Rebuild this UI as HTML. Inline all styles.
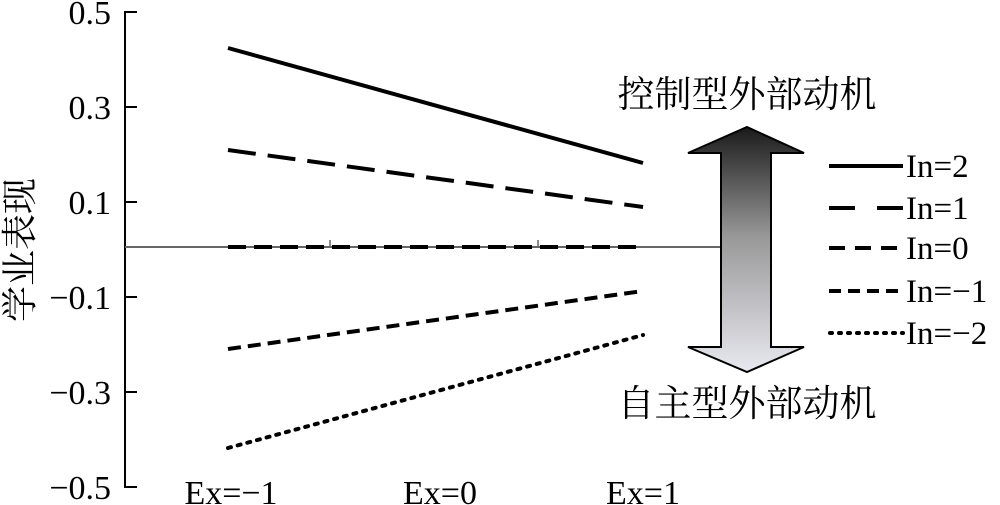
<!DOCTYPE html>
<html><head><meta charset="utf-8"><style>
html,body{margin:0;padding:0;background:#fff;}
svg{display:block;}
text{font-family:"Liberation Serif","Noto Serif CJK SC",serif;fill:#000;}
.cj{font-family:"Noto Serif CJK SC","Noto Sans CJK SC",serif;}
</style></head><body>
<svg width="1000" height="505" viewBox="0 0 1000 505" xmlns="http://www.w3.org/2000/svg">
<defs>
<linearGradient id="g" x1="0" y1="0" x2="0" y2="1">
<stop offset="0" stop-color="#1a1a1a"/>
<stop offset="0.45" stop-color="#999"/>
<stop offset="1" stop-color="#e8e8f0"/>
</linearGradient>
</defs>
<line x1="125" y1="11" x2="125" y2="488" stroke="#000" stroke-width="2"/>
<g stroke="#000" stroke-width="2">
<line x1="125" y1="12" x2="137" y2="12"/>
<line x1="125" y1="107" x2="137" y2="107"/>
<line x1="125" y1="202" x2="137" y2="202"/>
<line x1="125" y1="297" x2="137" y2="297"/>
<line x1="125" y1="392" x2="137" y2="392"/>
<line x1="125" y1="487" x2="137" y2="487"/>
</g>
<line x1="125" y1="247" x2="722" y2="247" stroke="#666" stroke-width="2"/>
<line x1="330" y1="240" x2="330" y2="247" stroke="#666" stroke-width="1.5"/>
<line x1="538" y1="240" x2="538" y2="247" stroke="#666" stroke-width="1.5"/>
<g font-size="34" text-anchor="end">
<text x="111" y="24">0.5</text>
<text x="111" y="119">0.3</text>
<text x="111" y="214">0.1</text>
<text x="111" y="309">−0.1</text>
<text x="111" y="404">−0.3</text>
<text x="111" y="499">−0.5</text>
</g>
<text class="cj" font-size="36" transform="translate(32,250) rotate(-90)" text-anchor="middle">学业表现</text>
<g font-size="34" text-anchor="middle">
<text x="231" y="504">Ex=−1</text>
<text x="440" y="504">Ex=0</text>
<text x="643" y="504">Ex=1</text>
</g>
<g stroke="#000" stroke-width="4" fill="none">
<line x1="228" y1="48" x2="643" y2="163"/>
<line x1="228" y1="150" x2="643" y2="207" stroke-dasharray="28,12"/>
<line x1="228" y1="247" x2="643" y2="247" stroke-dasharray="18,8"/>
<line x1="228" y1="349" x2="643" y2="291" stroke-dasharray="13,7"/>
<line x1="228" y1="448" x2="643" y2="335" stroke-dasharray="3,7" stroke-linecap="round"/>
</g>
<polygon points="747,127 804,153 771,153 771,347 804,347 747,372 688,347 721,347 721,153 688,153" fill="url(#g)" stroke="#000" stroke-width="2"/>
<text class="cj" x="747" y="107" font-size="37" text-anchor="middle">控制型外部动机</text>
<text class="cj" x="747" y="416" font-size="37" text-anchor="middle">自主型外部动机</text>
<g stroke="#000" stroke-width="4" fill="none">
<line x1="829" y1="166" x2="903" y2="166"/>
<line x1="829" y1="208" x2="903" y2="208" stroke-dasharray="26,22"/>
<line x1="829" y1="248" x2="903" y2="248" stroke-dasharray="16,10"/>
<line x1="829" y1="291" x2="903" y2="291" stroke-dasharray="12,7"/>
<line x1="830" y1="333" x2="903" y2="333" stroke-dasharray="2,7" stroke-linecap="round"/>
</g>
<g font-size="33">
<text x="906" y="177">In=2</text>
<text x="906" y="219">In=1</text>
<text x="906" y="259">In=0</text>
<text x="906" y="302">In=−1</text>
<text x="906" y="344">In=−2</text>
</g>
</svg>
</body></html>
